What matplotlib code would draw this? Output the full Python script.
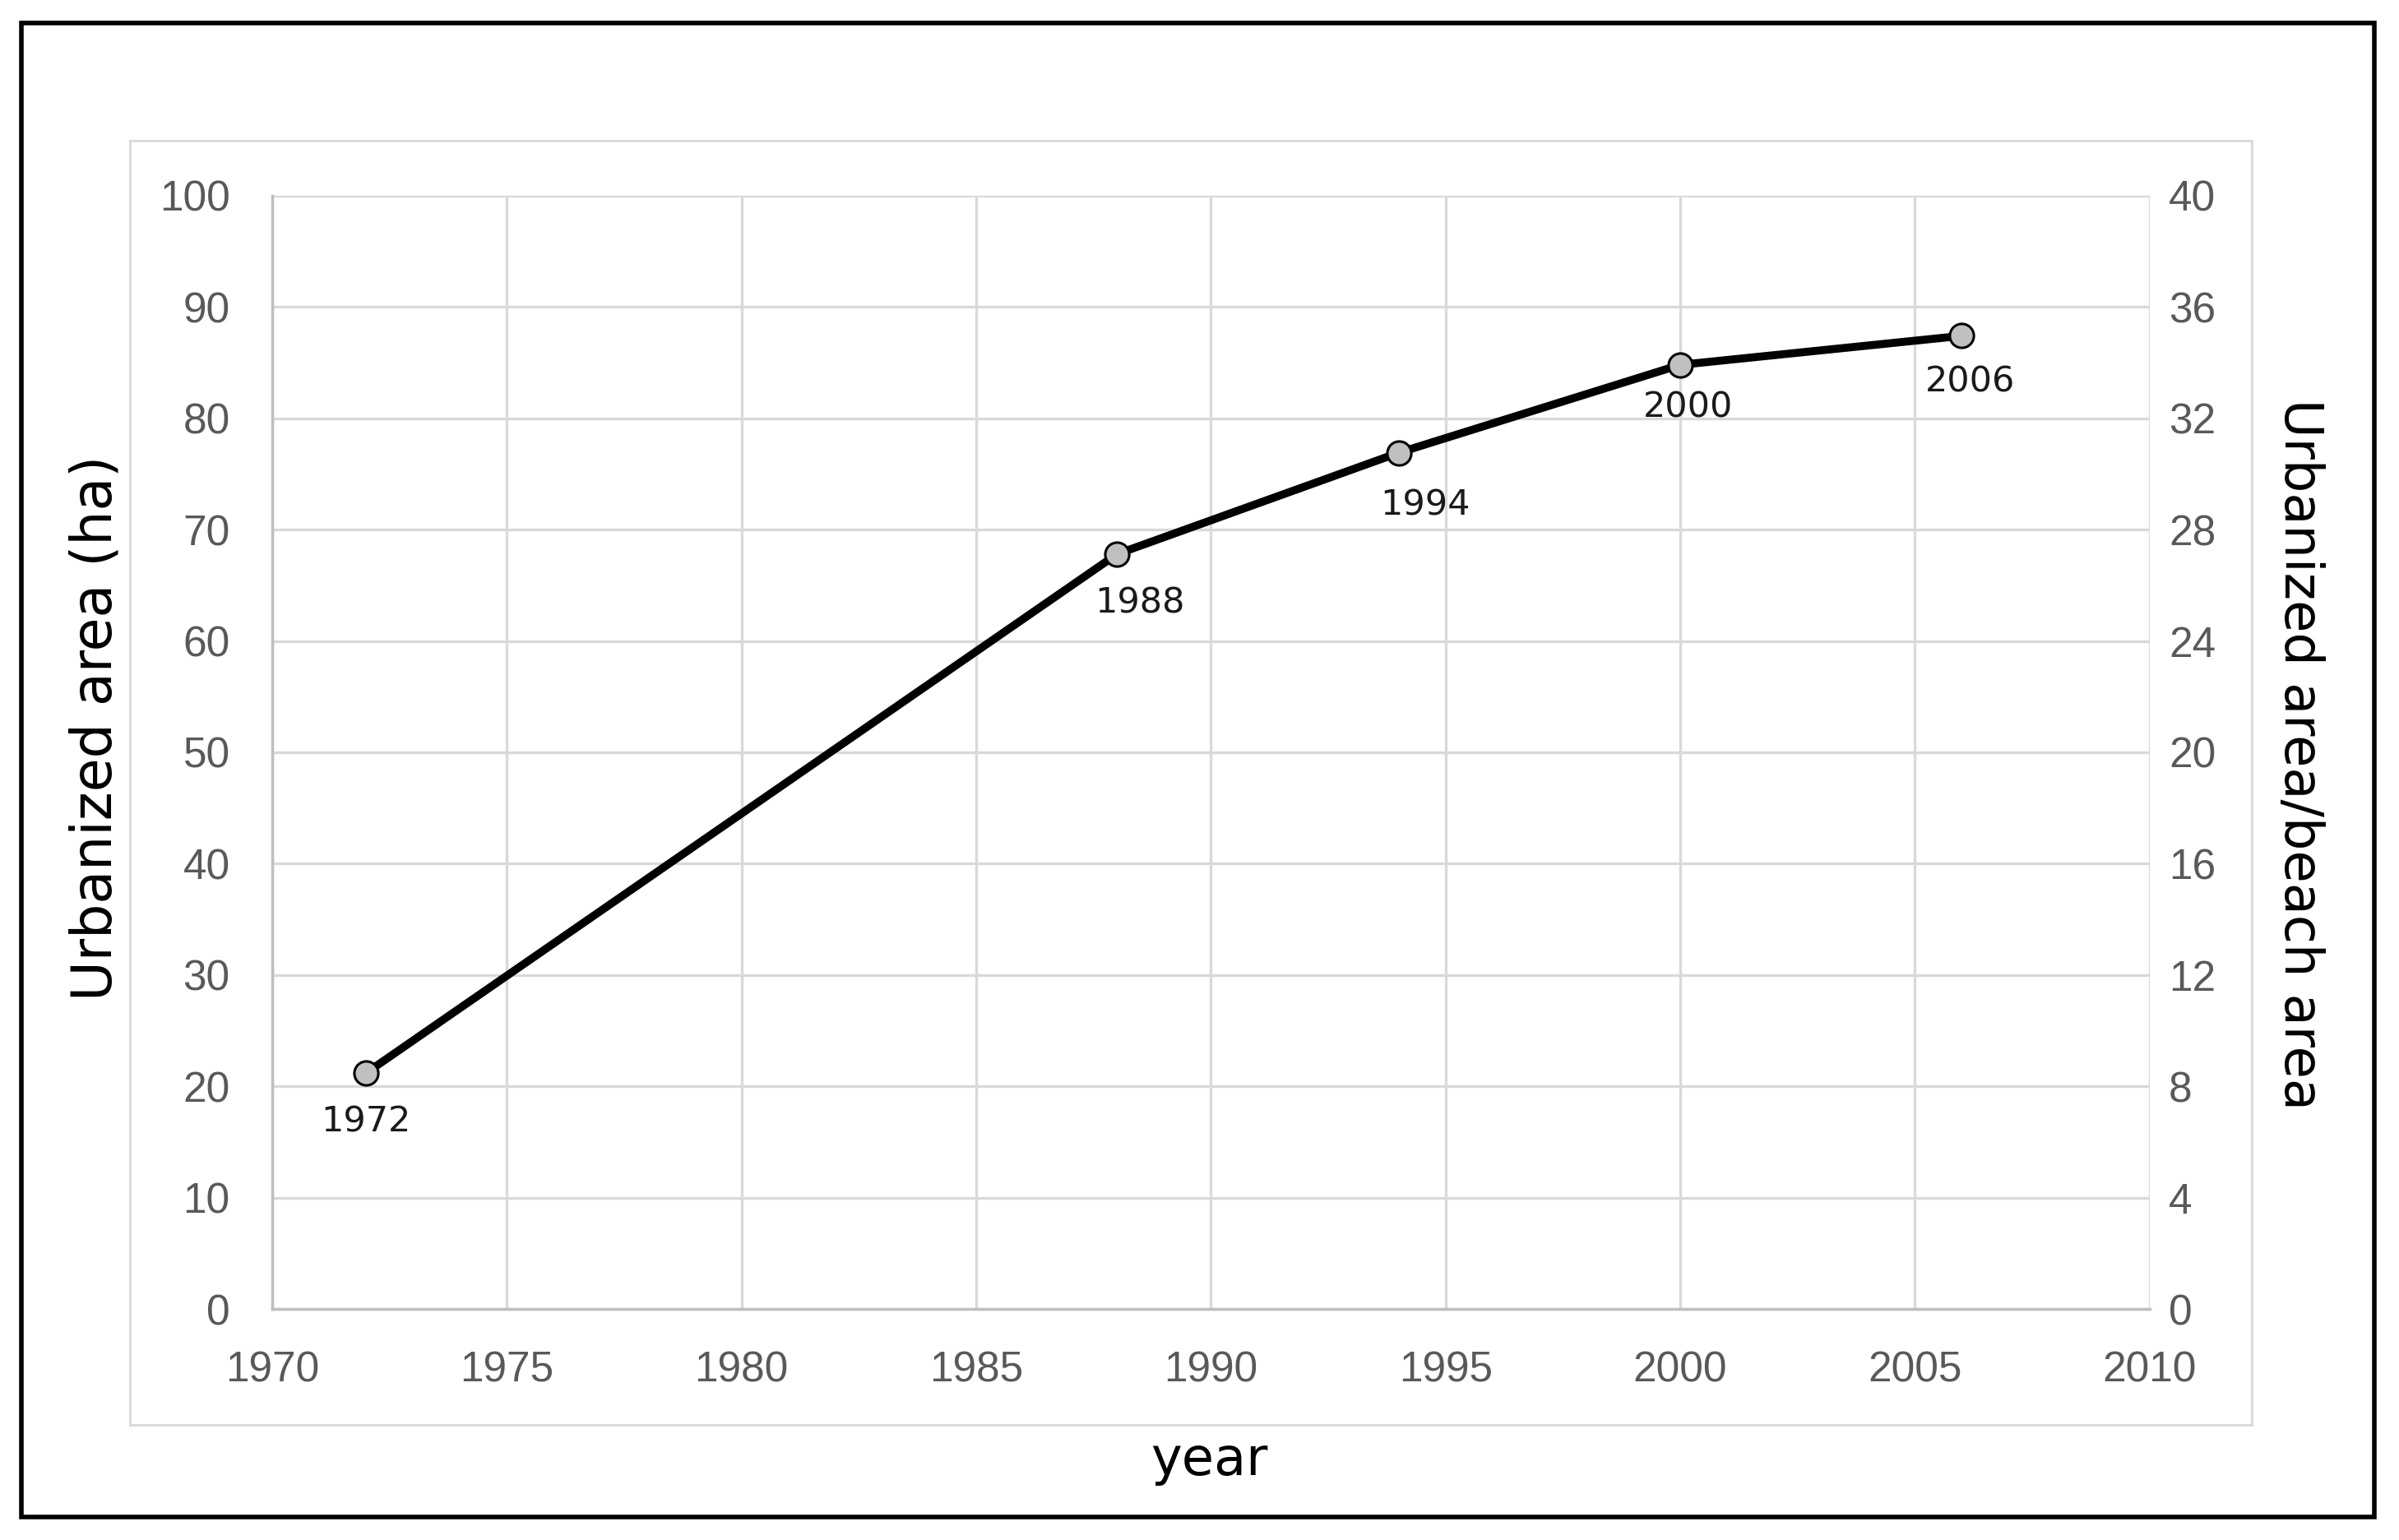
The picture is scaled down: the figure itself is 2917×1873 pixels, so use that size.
import matplotlib
matplotlib.use("Agg")
import matplotlib.pyplot as plt
from matplotlib.patches import Rectangle

# data
years = [1972, 1988, 1994, 2000, 2006]
urban_area = [21.2, 67.8, 76.9, 84.8, 87.4]
point_labels = ["1972", "1988", "1994", "2000", "2006"]
x_ticks = [1970, 1975, 1980, 1985, 1990, 1995, 2000, 2005, 2010]
left_ticks = [0, 10, 20, 30, 40, 50, 60, 70, 80, 90, 100]
right_ticks = [0, 4, 8, 12, 16, 20, 24, 28, 32, 36, 40]

# label offsets (points) below each marker
lab_dx = [0, 20, 23, 7, 7]
lab_dy = [-43, -43, -46, -37, -40]

tick_font = "Liberation Sans"
label_font = "DejaVu Sans"
grid_c = "#d9d9d9"
tick_c = "#595959"

fig = plt.figure(figsize=(29.17, 18.73), dpi=100)
ax = fig.add_axes([0.1135, 0.150, 0.7825, 0.723])

ax.plot(years, urban_area, color="black", lw=7, marker="o", markersize=21,
        markerfacecolor="#c0c0c0", markeredgecolor="black", markeredgewidth=2.2, zorder=5,
        clip_on=False)
for x, y, t, dx, dy in zip(years, urban_area, point_labels, lab_dx, lab_dy):
    ax.annotate(t, (x, y), xytext=(dx, dy), textcoords="offset points",
                ha="center", va="center", fontsize=31, family=label_font, color="#1a1a1a")

ax.set_xlim(1970, 2010)
ax.set_ylim(0, 100)
ax.set_xticks(x_ticks)
ax.set_yticks(left_ticks)
ax.grid(True, color=grid_c, lw=2.4)
ax.set_axisbelow(True)
for s in ["top", "right"]:
    ax.spines[s].set_visible(False)
for s in ["left", "bottom"]:
    ax.spines[s].set_color("#bfbfbf")
    ax.spines[s].set_linewidth(2.5)
ax.tick_params(length=0, labelsize=37, labelcolor=tick_c)
ax.tick_params(axis="x", pad=36)
ax.tick_params(axis="y", pad=37)
for lab in ax.get_xticklabels() + ax.get_yticklabels():
    lab.set_family(tick_font)

ax2 = ax.twinx()
ax2.set_ylim(0, 40)
ax2.set_yticks(right_ticks)
for s in ax2.spines.values():
    s.set_visible(False)
ax2.tick_params(length=0, labelsize=37, labelcolor=tick_c, pad=17)
for lab in ax2.get_yticklabels():
    lab.set_family(tick_font)

fig.text(0.040, 0.527, "Urbanized area (ha)", rotation=90, ha="center", va="center",
         fontsize=48, family=label_font)
fig.text(0.9585, 0.510, "Urbanized area/beach area", rotation=270, ha="center", va="center",
         fontsize=46, family=label_font)
fig.text(0.504, 0.0516, "year", ha="center", va="center", fontsize=46, family=label_font)

# chart frame and outer border
fig.patches.append(Rectangle((0.0542, 0.0745), 0.8846, 0.8341, transform=fig.transFigure,
                             fill=False, edgecolor=grid_c, lw=2))
fig.patches.append(Rectangle((0.0089, 0.0149), 0.9809, 0.9701, transform=fig.transFigure,
                             fill=False, edgecolor="black", lw=4))

fig.savefig("out.png", dpi=100, facecolor="white")
